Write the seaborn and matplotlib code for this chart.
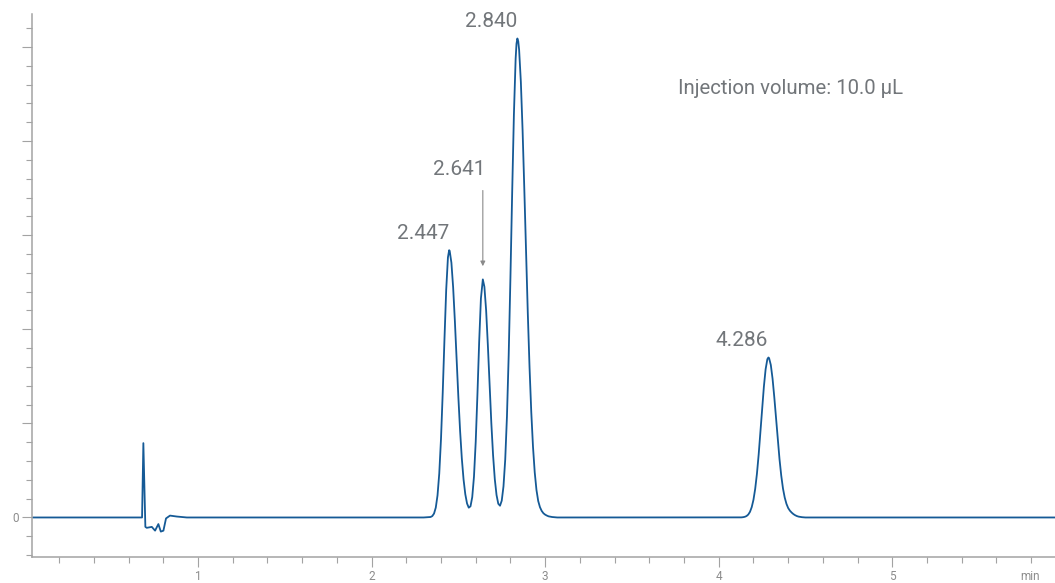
import matplotlib
matplotlib.use("Agg")
import seaborn as sns
from matplotlib import pyplot as plt
from matplotlib.ticker import MultipleLocator

# detector trace (time in min, signal in major-tick units)
void_time = [0.05, 0.678, 0.6855, 0.697, 0.705, 0.734, 0.753, 0.772, 0.786,
             0.801, 0.816, 0.839, 0.878, 0.936]
void_signal = [0.0, 0.0, 0.79, -0.10, -0.11, -0.10, -0.14, -0.07, -0.15,
               -0.14, -0.01, 0.02, 0.01, 0.0]

cluster_time = [2.30, 2.34, 2.35, 2.36, 2.37, 2.38, 2.39, 2.40, 2.41, 2.42, 2.43,
                2.44, 2.447, 2.45, 2.46, 2.47, 2.48, 2.49, 2.50, 2.51, 2.52, 2.53,
                2.54, 2.55, 2.56, 2.57, 2.58, 2.59, 2.60, 2.61, 2.62, 2.63, 2.641,
                2.65, 2.66, 2.67, 2.68, 2.69, 2.70, 2.71, 2.72, 2.73, 2.74, 2.75,
                2.76, 2.77, 2.78, 2.79, 2.80, 2.81, 2.82, 2.83, 2.835, 2.84, 2.845,
                2.85, 2.86, 2.87, 2.88, 2.89, 2.90, 2.91, 2.92, 2.93, 2.94, 2.95,
                2.96, 2.97, 2.98, 2.99, 3.00, 3.01, 3.02, 3.04, 3.07]
cluster_signal = [0.0, 0.005, 0.015, 0.042, 0.105, 0.235, 0.467, 0.833, 1.327, 1.894, 2.419,
                  2.764, 2.84, 2.833, 2.707, 2.445, 2.086, 1.682, 1.281, 0.922, 0.627, 0.404,
                  0.247, 0.149, 0.104, 0.119, 0.216, 0.434, 0.803, 1.311, 1.870, 2.328, 2.53,
                  2.452, 2.201, 1.829, 1.407, 1.002, 0.662, 0.406, 0.238, 0.146, 0.125, 0.179,
                  0.331, 0.615, 1.075, 1.726, 2.548, 3.449, 4.281, 4.875, 5.035, 5.09, 5.06,
                  4.971, 4.631, 4.115, 3.488, 2.819, 2.174, 1.599, 1.122, 0.751, 0.479, 0.292,
                  0.175, 0.11, 0.07, 0.045, 0.03, 0.02, 0.012, 0.005, 0.0]

late_time = [4.12, 4.13, 4.14, 4.15, 4.16, 4.17, 4.18, 4.19, 4.20, 4.21, 4.22, 4.23,
             4.24, 4.25, 4.26, 4.27, 4.28, 4.286, 4.29, 4.30, 4.31, 4.32, 4.33, 4.34,
             4.35, 4.36, 4.37, 4.38, 4.39, 4.40, 4.41, 4.42, 4.43, 4.44, 4.45, 4.46,
             4.48, 4.50, 5.94]
late_signal = [0.0, 0.001, 0.003, 0.007, 0.015, 0.031, 0.060, 0.110, 0.188, 0.305, 0.465, 0.669,
               0.906, 1.156, 1.390, 1.575, 1.682, 1.70, 1.693, 1.620, 1.475, 1.278, 1.054, 0.828,
               0.620, 0.445, 0.308, 0.212, 0.145, 0.100, 0.072, 0.052, 0.036, 0.024, 0.015, 0.009,
               0.003, 0.0, 0.0]

# labelled peaks
peak_rt = [2.447, 2.641, 2.840, 4.286]
peak_height = [2.84, 2.53, 5.09, 1.70]
peak_labels = ["2.447", "2.641", "2.840", "4.286"]
arrow_peak = "2.641"

x_ticks = [1, 2, 3, 4, 5]
x_tick_labels = ["1", "2", "3", "4", "5"]
y_ticks = [0, 1, 2, 3, 4, 5]
y_tick_labels = ["0", "", "", "", "", ""]
note = "Injection volume: 10.0 µL"

sns.set_style("ticks")
plt.rcParams["font.family"] = ["Roboto", "DejaVu Sans"]

trace_color = "#155a96"
text_gray = "#72767a"
axis_gray = "#a3a3a3"

fig = plt.figure(figsize=(10.55, 5.83), dpi=100)
ax = fig.add_axes([32 / 1055, 26 / 583, 1023 / 1055, 543 / 583])

time = void_time + cluster_time + late_time
signal = void_signal + cluster_signal + late_signal
sns.lineplot(x=time, y=signal, ax=ax, color=trace_color, linewidth=1.3,
             sort=False, estimator=None)

ax.set_xlim(0.044, 5.937)
ax.set_ylim(-0.42, 5.35)

ax.set_xticks(x_ticks)
ax.set_xticklabels(x_tick_labels)
ax.set_yticks(y_ticks)
ax.set_yticklabels(y_tick_labels)
ax.xaxis.set_minor_locator(MultipleLocator(0.2))
ax.yaxis.set_minor_locator(MultipleLocator(0.2))
ax.tick_params(which="major", length=7.5, width=0.8, color=axis_gray,
               labelcolor="#8c8c8c", labelsize=8.5)
ax.tick_params(axis="x", which="major", pad=2)
ax.tick_params(axis="y", which="major", pad=2)
ax.tick_params(which="minor", length=4, width=0.8, color=axis_gray)

for side in ["top", "right"]:
    ax.spines[side].set_visible(False)
for side in ["left", "bottom"]:
    ax.spines[side].set_color(axis_gray)
    ax.spines[side].set_linewidth(1.1)

# peak labels, set up and to the left of each apex
for rt, h, lab in zip(peak_rt, peak_height, peak_labels):
    if lab == arrow_peak:
        ax.annotate(lab, xy=(rt, h), xytext=(-17, 79), textcoords="offset points",
                    ha="center", va="center", fontsize=15, color=text_gray)
        ax.annotate("", xy=(rt, h), xytext=(0, 64), textcoords="offset points",
                    arrowprops=dict(arrowstyle="-|>", color="#8a8a8a", lw=0.8,
                                    shrinkA=0, shrinkB=9.5, mutation_scale=7))
    else:
        ax.annotate(lab, xy=(rt, h), xytext=(-19, 12), textcoords="offset points",
                    ha="center", va="center", fontsize=15, color=text_gray)

ax.text(0.6315, 0.862, note, transform=ax.transAxes, ha="left", va="center",
        fontsize=14.7, color=text_gray)
fig.text(1030 / 1055, 1 - 576 / 583, "min", ha="center", va="center",
         fontsize=8.5, color="#8c8c8c")

fig.savefig("out.png", dpi=100)
